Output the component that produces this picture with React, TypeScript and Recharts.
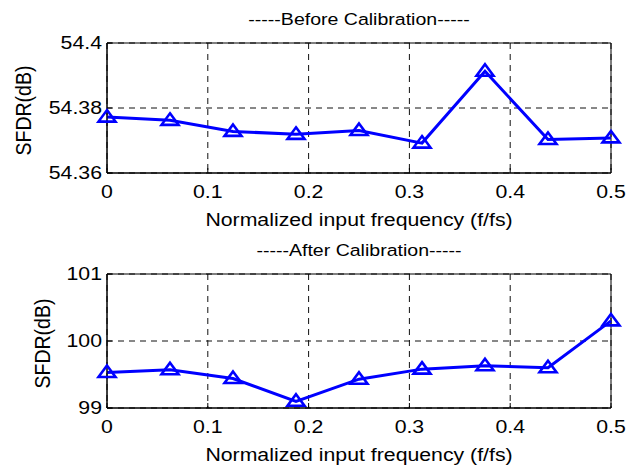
import { LineChart, Line, XAxis, YAxis, CartesianGrid, ReferenceArea } from "recharts";

const freqs = [0, 0.0625, 0.125, 0.1875, 0.25, 0.3125, 0.375, 0.4375, 0.5];
const beforeCal = [54.3772, 54.3762, 54.3728, 54.3719, 54.3731, 54.3692, 54.3913, 54.3703, 54.3708];
const afterCal = [99.53, 99.57, 99.44, 99.1, 99.43, 99.58, 99.63, 99.6, 100.3];

const xTicks = [0, 0.1, 0.2, 0.3, 0.4, 0.5];
const xTickLabels = ["0", "0.1", "0.2", "0.3", "0.4", "0.5"];
const beforeTicks = [54.36, 54.38, 54.4];
const beforeTickLabels = ["54.36", "54.38", "54.4"];
const afterTicks = [99, 100, 101];
const afterTickLabels = ["99", "100", "101"];

const FONT = "'Liberation Sans', Arial, Helvetica, sans-serif";
const SX = 1.15; // the picture is a bit stretched sideways
const BLUE = "#0000ff";

function Tri({ cx, cy }: any) {
    if (cx == null || cy == null) return null;
    return (
        <path
            d={`M${cx},${cy - 7} L${cx + 8.5},${cy + 4.5} L${cx - 8.5},${cy + 4.5} Z`}
            fill="none"
            stroke={BLUE}
            strokeWidth={2.6}
            strokeLinejoin="miter"
        />
    );
}

interface PanelProps {
    values: number[];
    yTicks: number[];
    yTickLabels: string[];
    title: string;
    height: number;
    top: number;
    bottom: number;
    yLabelX: number;
}

function Panel({ values, yTicks, yTickLabels, title, height, top, bottom, yLabelX }: PanelProps) {
    const data = freqs.map((f, i) => ({ f, v: values[i] }));
    const domain: [number, number] = [yTicks[0], yTicks[yTicks.length - 1]];

    const XTick = ({ x, y, index }: any) => (
        <text transform={`translate(${x},${y}) scale(${SX},1)`} y={25.5} textAnchor="middle"
            fontSize={18.5} fontFamily={FONT} fill="#000">
            {xTickLabels[index]}
        </text>
    );
    const YTick = ({ x, y, index }: any) => (
        <text transform={`translate(${x - 5},${y}) scale(${SX},1)`} y={6.3} textAnchor="end"
            fontSize={18.5} fontFamily={FONT} fill="#000">
            {yTickLabels[index]}
        </text>
    );
    const XLabel = ({ viewBox }: any) => (
        <text transform={`translate(${viewBox.x + viewBox.width / 2},${viewBox.y + 52.5}) scale(${SX},1)`}
            textAnchor="middle" fontSize={18.5} fontFamily={FONT} fill="#000">
            Normalized input frequency (f/fs)
        </text>
    );
    const TitleLabel = ({ viewBox }: any) => (
        <text transform={`translate(${viewBox.x + viewBox.width / 2},${viewBox.y - 17.6}) scale(${SX},1)`}
            textAnchor="middle" fontSize={17} fontFamily={FONT} fill="#000">
            {title}
        </text>
    );
    const YLabel = ({ viewBox }: any) => (
        <text transform={`translate(${yLabelX},${viewBox.y + viewBox.height / 2 + 2.5}) scale(${SX},1) rotate(-90)`}
            textAnchor="middle" fontSize={19.5} fontFamily={FONT} fill="#000">
            SFDR(dB)
        </text>
    );

    return (
        <LineChart width={638} height={height} data={data}
            margin={{ top: top, right: 27, left: 47, bottom: bottom }}>
            <CartesianGrid stroke="#111" strokeDasharray="6 5" />
            <XAxis dataKey="f" type="number" domain={[0, 0.5]} ticks={xTicks} height={30}
                axisLine={{ stroke: "#000" }} tickLine={{ stroke: "#000" }}
                tickSize={-5} tickMargin={5} tick={(p: any) => <XTick {...p} />}
                label={{ content: (p: any) => <XLabel {...p} /> }} />
            <YAxis type="number" domain={domain} ticks={yTicks} width={60}
                axisLine={{ stroke: "#000" }} tickLine={{ stroke: "#000" }}
                tickSize={-5} tickMargin={5} tick={(p: any) => <YTick {...p} />}
                label={{ content: (p: any) => <YLabel {...p} /> }} />
            <ReferenceArea x1={0} x2={0.5} y1={domain[0]} y2={domain[1]} fill="none" fillOpacity={0}
                stroke="#000" strokeWidth={1} ifOverflow="visible"
                label={{ content: (p: any) => <TitleLabel {...p} /> }} />
            <Line type="linear" dataKey="v" stroke={BLUE} strokeWidth={3}
                dot={(p: any) => <Tri key={`d${p.index}`} cx={p.cx} cy={p.cy} />}
                activeDot={false} isAnimationActive={false} />
        </LineChart>
    );
}

export default function App() {
    return (
        <div style={{ position: "absolute", left: 0, top: 0, width: 638, height: 467, background: "#fff" }}>
            <Panel values={beforeCal} yTicks={beforeTicks} yTickLabels={beforeTickLabels}
                title="-----Before Calibration-----" height={232} top={43} bottom={29} yLabelX={31} />
            <Panel values={afterCal} yTicks={afterTicks} yTickLabels={afterTickLabels}
                title="-----After Calibration-----" height={235} top={42} bottom={29} yLabelX={50} />
        </div>
    );
}
